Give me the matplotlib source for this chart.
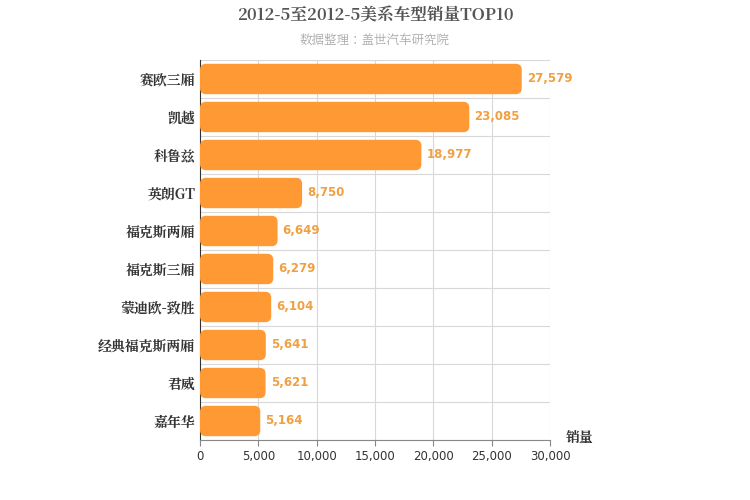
import matplotlib
matplotlib.use("Agg")
import matplotlib.pyplot as plt
from matplotlib.patches import FancyBboxPatch
from matplotlib import font_manager as fm
import numpy as np

cjk = None
for f in fm.fontManager.ttflist:
    if "CJK" in f.name and ("SC" in f.name or cjk is None):
        cjk = f.name
        if "SC" in f.name:
            break
if cjk is None:
    for p in fm.findSystemFonts():
        if "CJK" in p:
            fm.fontManager.addfont(p)
            cjk = fm.FontProperties(fname=p).get_name()
            break
plt.rcParams['font.family'] = [cjk or 'DejaVu Sans', 'DejaVu Sans']

categories = ["赛欧三厢", "凯越", "科鲁兹", "英朗GT", "福克斯两厢", "福克斯三厢", "蒙迪欧-致胜", "经典福克斯两厢", "君威", "嘉年华"]
values = [27579, 23085, 18977, 8750, 6649, 6279, 6104, 5641, 5621, 5164]
xticks = [0, 5000, 10000, 15000, 20000, 25000, 30000]

fig = plt.figure(figsize=(7.5, 5), dpi=100)
ax = fig.add_axes([200/750, 60/500, 350/750, 380/500])
n = len(categories)
ax.set_xlim(0, 30000)
ax.set_ylim(n - 0.5, -0.5)
xpp = 30000 / 350
ypp = n / 380
h = 0.8
for i, v in enumerate(values):
    p = FancyBboxPatch((0, i - h/2), v, h,
                       boxstyle="round,pad=0,rounding_size=%f" % (6*xpp),
                       mutation_aspect=ypp/xpp,
                       fc="#FF9933", ec="none", zorder=3)
    ax.add_patch(p)
    ax.text(v + 5*xpp, i, f"{v:,}", va="center", ha="left", fontsize=8.5,
            color="#F0A040", fontweight="bold", zorder=4, family="DejaVu Sans")

ax.set_xticks(xticks)
ax.set_xticklabels([f"{t:,}" for t in xticks], fontsize=8.5, color="#333", family="DejaVu Sans")
ax.set_yticks(range(n))
ax.set_yticklabels(categories, fontsize=10, fontweight="bold", color="#333")
ax.tick_params(axis='y', length=0)
ax.tick_params(axis='x', length=4, color="#888")
for b in np.arange(-0.5, n, 1):
    ax.axhline(b, color="#d8d8d8", lw=0.8, zorder=1)
for t in xticks[1:]:
    ax.axvline(t, color="#d8d8d8", lw=0.8, zorder=1)
for s in ["top", "right"]:
    ax.spines[s].set_visible(False)
ax.spines["bottom"].set_color("#888")
ax.spines["left"].set_color("#333")

fig.text(0.5, 1 - 16/500, "2012-5至2012-5美系车型销量TOP10", ha="center", va="center",
         fontsize=12, fontweight="bold", color="#555")
fig.text(0.5, 1 - 41/500, "数据整理：盖世汽车研究院", ha="center", va="center",
         fontsize=9, color="#aaa")
fig.text(580/750, 1 - 438/500, "销量", ha="center", va="center", fontsize=10,
         fontweight="bold", color="#333")
fig.savefig("out.png", dpi=100)
